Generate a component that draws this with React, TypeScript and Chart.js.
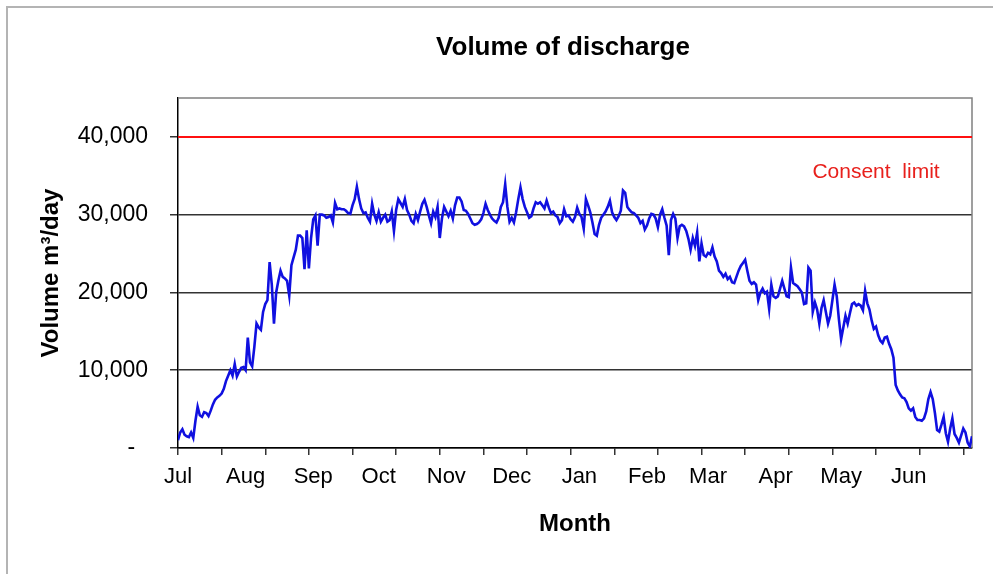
import React, { useEffect, useRef } from "react";
import { Chart, registerables } from "chart.js";

Chart.register(...registerables);

// Daily discharge volume (m3/day), one array per month
const JUL = [1000, 2000, 2400, 1700, 1500, 1400, 2000, 1300, 3500, 5300, 4200, 4000, 4600, 4500, 4100, 4800, 5600, 6200, 6500, 6700, 7000, 7600, 8600, 9300, 10000, 9300, 10800, 9200, 9800, 10300, 10400];
const AUG = [10000, 14200, 11000, 10500, 13000, 16000, 15500, 15200, 17500, 18500, 19000, 23900, 21000, 16000, 20000, 21500, 22800, 22000, 21800, 21500, 19600, 23500, 24500, 25500, 27300, 27300, 27000, 23000, 28000, 23100, 27000];
const SEP = [29400, 29900, 26000, 30000, 30000, 29900, 29600, 29700, 29900, 29000, 31500, 30700, 30800, 30700, 30700, 30500, 30200, 30100, 31200, 32000, 33600, 32000, 30800, 30200, 30300, 29600, 29100, 31400, 30000, 29200];
const OCT = [30300, 29100, 29600, 30000, 29100, 29300, 30400, 27900, 30600, 32000, 31500, 31000, 32000, 30600, 30000, 29200, 28900, 30100, 29300, 30400, 31400, 31900, 31000, 29900, 28900, 30400, 29700, 31000, 27000, 29500, 31000];
const NOV = [30400, 29800, 30500, 29500, 31200, 32200, 32200, 31700, 30600, 30500, 30100, 29500, 28900, 28700, 28800, 29000, 29400, 30200, 31400, 30600, 30000, 29500, 29200, 29000, 29600, 31000, 31600, 33900, 31000, 29100];
const DEC = [29600, 29000, 30300, 32000, 33500, 32000, 31000, 30300, 29600, 29800, 30800, 31600, 31400, 31600, 31200, 30800, 31800, 30900, 30200, 30400, 29900, 29700, 28900, 29300, 30700, 29800, 29900, 29400, 29100, 29700, 30900];
const JAN = [30100, 29700, 28200, 32000, 31200, 30300, 29000, 27500, 27300, 28700, 29600, 30000, 30400, 31000, 31800, 30300, 29700, 29300, 29800, 30500, 33100, 32800, 31000, 30600, 30300, 30200, 29900, 29600, 28900, 29200, 28100];
const FEB = [28600, 29500, 30100, 30000, 29500, 28400, 30000, 30700, 29600, 28600, 24800, 29300, 30100, 29500, 27000, 28500, 28700, 28500, 27900, 26900, 25500, 27000, 26000, 27700, 24000, 26300, 24800, 24600];
const MAR = [25100, 24900, 25800, 24600, 24000, 22800, 22500, 22000, 22400, 21700, 22000, 21300, 21200, 22000, 22800, 23400, 23800, 24200, 22800, 21500, 21100, 21300, 21000, 19000, 20000, 20500, 19900, 20100, 17900, 21000, 19500];
const APR = [19300, 19500, 20500, 21500, 20500, 19500, 19400, 23200, 21200, 21000, 20800, 20400, 20000, 18500, 18600, 23200, 22800, 17500, 18700, 17800, 16000, 18000, 19000, 17500, 16000, 17000, 19000, 21000, 19500, 16500];
const MAY = [14000, 15500, 17000, 16000, 17300, 18500, 18700, 18300, 18500, 18300, 17700, 20200, 18600, 17800, 16400, 15300, 15600, 14500, 13800, 13500, 14200, 14300, 13400, 12700, 11600, 8100, 7400, 6900, 6500, 6400, 5900];
const JUN = [5100, 4800, 5100, 4000, 3600, 3600, 3500, 3800, 4700, 6300, 7200, 6300, 4500, 2300, 2100, 3000, 4000, 1900, 800, 2500, 3800, 1800, 1300, 700, 1600, 2500, 2000, 700, 200, 1500];

const MONTH_LABELS = ["Jul", "Aug", "Sep", "Oct", "Nov", "Dec", "Jan", "Feb", "Mar", "Apr", "May", "Jun"];
const MONTH_STARTS = [0, 31, 62, 92, 123, 153, 184, 215, 243, 274, 304, 335];
const Y_TICKS = [0, 10000, 20000, 30000, 40000];
const CONSENT_LIMIT = 40000;
const LAST_DAY = 364;
const TICK_STEP_DAYS = 20;

const DISCHARGE = [...JUL, ...AUG, ...SEP, ...OCT, ...NOV, ...DEC, ...JAN, ...FEB, ...MAR, ...APR, ...MAY, ...JUN];

const FONT = "'Liberation Sans', Arial, Helvetica, sans-serif";

export default function App() {
  const ref = useRef<HTMLCanvasElement | null>(null);

  useEffect(() => {
    if (!ref.current) return;

    const framePlugin = {
      id: "frame",
      beforeDatasetsDraw(chart: any) {
        const { ctx, chartArea: a } = chart;
        ctx.save();
        ctx.strokeStyle = "#808080";
        ctx.lineWidth = 1.5;
        ctx.beginPath();
        ctx.moveTo(a.left, a.top);
        ctx.lineTo(a.right, a.top);
        ctx.lineTo(a.right, a.bottom);
        ctx.stroke();
        ctx.restore();
      },
      afterDraw(chart: any) {
        const { ctx, chartArea: a, scales } = chart;
        ctx.save();
        ctx.fillStyle = "#000";
        ctx.font = `bold 26px ${FONT}`;
        ctx.textAlign = "center";
        ctx.textBaseline = "middle";
        ctx.fillText("Volume of discharge", (a.left + a.right) / 2 - 12, 40);
        ctx.fillStyle = "#e8201c";
        ctx.font = `21px ${FONT}`;
        ctx.fillText("Consent  limit", scales.x.getPixelForValue(320), scales.y.getPixelForValue(35400));
        ctx.restore();
      },
    };

    const chart = new Chart(ref.current, {
      type: "line",
      data: {
        datasets: [
          {
            label: "Volume",
            data: DISCHARGE.map((v, i) => ({ x: i, y: v })),
            borderColor: "#1010e0",
            borderWidth: 2.6,
            pointRadius: 0,
            tension: 0,
            xAxisID: "x",
            yAxisID: "y",
            order: 2,
          },
          {
            label: "Consent limit",
            data: [
              { x: 0, y: CONSENT_LIMIT },
              { x: LAST_DAY, y: CONSENT_LIMIT },
            ],
            borderColor: "#ff1010",
            borderWidth: 2,
            pointRadius: 0,
            xAxisID: "x",
            yAxisID: "y",
            order: 1,
          },
        ],
      },
      options: {
        animation: false,
        responsive: false,
        devicePixelRatio: 1,
        layout: { padding: { left: 24, right: 21, top: 90, bottom: 0 } },
        plugins: {
          legend: { display: false },
          tooltip: { enabled: false },
          title: { display: false },
        },
        scales: {
          x: {
            type: "linear",
            position: "bottom",
            weight: 0,
            min: 0,
            max: LAST_DAY,
            afterBuildTicks: (s: any) => {
              const t: any[] = [];
              for (let v = 0; v <= LAST_DAY; v += TICK_STEP_DAYS) t.push({ value: v });
              s.ticks = t;
            },
            afterFit: (s: any) => {
              s.height = 7;
            },
            ticks: { display: false },
            grid: {
              display: true,
              drawOnChartArea: false,
              drawTicks: true,
              tickLength: 7,
              color: "#333",
              lineWidth: 1.5,
            },
            border: { display: true, color: "#000", width: 1.5 },
          },
          x2: {
            type: "linear",
            position: "bottom",
            weight: 1,
            min: 0,
            max: LAST_DAY,
            afterBuildTicks: (s: any) => {
              s.ticks = MONTH_STARTS.map((v) => ({ value: v }));
            },
            afterFit: (s: any) => {
              s.height = 119;
            },
            ticks: {
              autoSkip: false,
              maxRotation: 0,
              minRotation: 0,
              padding: 9,
              color: "#000",
              font: { family: FONT, size: 22 },
              callback: (v: any) => MONTH_LABELS[MONTH_STARTS.indexOf(Number(v))] ?? "",
            },
            grid: { display: false, drawTicks: false },
            border: { display: false },
            title: {
              display: true,
              text: "Month",
              color: "#000",
              font: { family: FONT, size: 24, weight: "bold" },
              padding: { top: 20, bottom: 35 },
            },
          },
          y: {
            type: "linear",
            min: 0,
            max: 45000,
            afterBuildTicks: (s: any) => {
              s.ticks = Y_TICKS.map((v) => ({ value: v }));
            },
            afterFit: (s: any) => {
              s.width = 146;
            },
            ticks: {
              padding: 22,
              color: "#000",
              font: { family: FONT, size: 23 },
              callback: (v: any) => (Number(v) === 0 ? "-  " : Number(v).toLocaleString("en-US")),
            },
            grid: {
              color: "#333",
              lineWidth: 1.5,
              drawTicks: true,
              tickLength: 8,
            },
            border: { display: true, color: "#000", width: 1.5 },
            title: {
              display: true,
              text: "Volume m³/day",
              color: "#000",
              font: { family: FONT, size: 24, weight: "bold" },
              padding: { top: 5, bottom: 4 },
            },
          },
        },
      },
      plugins: [framePlugin],
    });

    return () => chart.destroy();
  }, []);

  return (
    <div
      style={{
        position: "absolute",
        left: 6,
        top: 6,
        borderLeft: "2px solid #b4b4b4",
        borderTop: "2px solid #b4b4b4",
      }}
    >
      <canvas ref={ref} width={985} height={566} style={{ display: "block", width: 985, height: 566 }} />
    </div>
  );
}
